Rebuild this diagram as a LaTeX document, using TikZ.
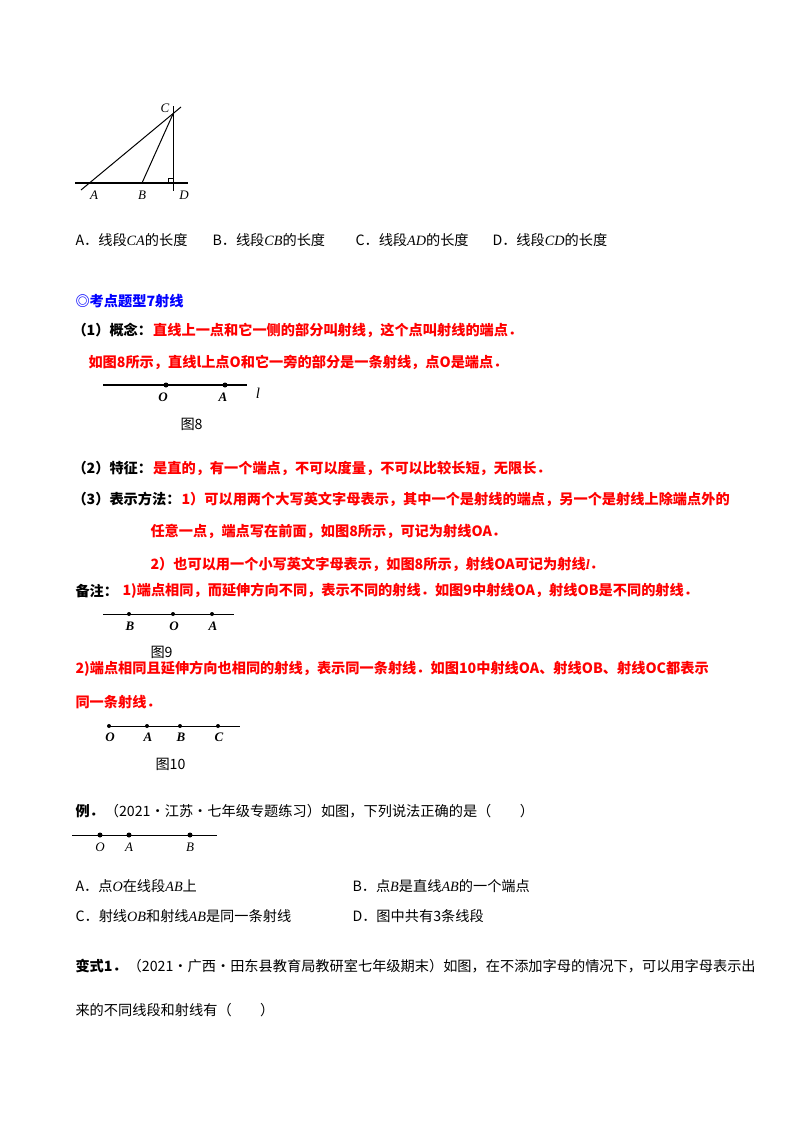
\documentclass[tikz,border=0pt]{standalone}
\usepackage{fontspec}
\setmainfont{Noto Sans CJK SC}
\newfontfamily\lat{Liberation Serif}
\begin{document}
\begin{tikzpicture}[x=1pt,y=-1pt,line width=1pt,
 t/.style={anchor=west,inner sep=0,font=\fontsize{14.2}{15}\selectfont},
 r/.style={t,text=red,font=\fontsize{14.2}{15}\selectfont\bfseries},
 lb/.style={inner sep=0,font=\fontsize{13}{13}\lat\itshape},
 lbb/.style={inner sep=0,font=\fontsize{13}{13}\lat\bfseries\itshape},
 dot/.style={circle,fill,inner sep=0,minimum size=5pt}]
\useasboundingbox (0,0) rectangle (800,1132);
\fill[white] (0,0) rectangle (800,1132);
% top figure
\coordinate (A) at (92,183); \coordinate (B) at (142,183); \coordinate (C) at (173,114); \coordinate (D) at (173,183);
\coordinate (h1) at (75,183); \coordinate (h2) at (188,183);
\coordinate (a0) at (81,190); \coordinate (a1) at (181,107);
\coordinate (v0) at (173,106); \coordinate (v1) at (173,191);
\draw[line width=1.5pt] (h1)--(h2); \draw (a0)--(a1); \draw (B)--(C); \draw (v0)--(v1);
\draw[line width=0.8pt] (168,183)--(168,178)--(173,178);
\node[lb] (lA) at (94,195) {A}; \node[lb] (lB) at (142,195) {B};
\node[lb] (lC) at (165,108) {C}; \node[lb] (lD) at (184,195) {D};
\node[t] (o1) at (75,240) {A．线段{\lat\itshape CA}的长度};
\node[t] (o2) at (212,240) {B．线段{\lat\itshape CB}的长度};
\node[t] (o3) at (355,240) {C．线段{\lat\itshape AD}的长度};
\node[t] (o4) at (492,240) {D．线段{\lat\itshape CD}的长度};
\node[t,text=blue,font=\fontsize{14.2}{15}\selectfont\bfseries] (h) at (75,301) {◎考点题型7射线};
\node[t,font=\fontsize{14.2}{15}\selectfont\bfseries] (p1) at (72,330) {（1）概念：};
\node[r] (p1r) at (p1.east) [anchor=west] {直线上一点和它一侧的部分叫射线，这个点叫射线的端点．};
\node[r] (p1b) at (88,362) {如图8所示，直线l上点O和它一旁的部分是一条射线，点O是端点．};
% fig 8
\draw[line width=1.6pt] (103,385)--(247,385);
\node[dot] (O8) at (166,385) {}; \node[dot] (A8) at (225,385) {};
\node[lbb] at (163,397) {O};
\node[lbb] at (223,397) {A};
\node[lb,font=\fontsize{15}{15}\lat\itshape] at (258,393) {l};
\node[t] (c8) at (180,424) {图8};
\node[t,font=\fontsize{14.2}{15}\selectfont\bfseries] (p2) at (72,468) {（2）特征：};
\node[r] at (p2.east) [anchor=west] {是直的，有一个端点，不可以度量，不可以比较长短，无限长．};
\node[t,font=\fontsize{14.2}{15}\selectfont\bfseries] (p3) at (72,499) {（3）表示方法：};
\node[r] at (p3.east) [anchor=west] {1）可以用两个大写英文字母表示，其中一个是射线的端点，另一个是射线上除端点外的};
\node[r] at (150,531) {任意一点，端点写在前面，如图8所示，可记为射线OA．};
\node[r] at (150,564) {2）也可以用一个小写英文字母表示，如图8所示，射线OA可记为射线{\lat\bfseries\itshape l}．};
\node[t,font=\fontsize{14.2}{15}\selectfont\bfseries] (bz) at (75,591) {备注：};
\node[r] at (122,591) {1)端点相同，而延伸方向不同，表示不同的射线．如图9中射线OA，射线OB是不同的射线．};
% fig 9
\draw (103,614)--(234,614);
\node[dot,minimum size=4pt] (B9) at (129,614) {}; \node[dot,minimum size=4pt] (O9) at (173,614) {}; \node[dot,minimum size=4pt] (A9) at (212,614) {};
\node[lbb] at (130,626) {B};
\node[lbb] at (174,626) {O};
\node[lbb] at (213,626) {A};
\node[t] at (150,652) {图9};
\node[r] at (75,669) {2)端点相同且延伸方向也相同的射线，表示同一条射线．如图10中射线OA、射线OB、射线OC都表示};
\node[r] at (75,702) {同一条射线．};
% fig 10
\draw (109,726)--(240,726);
\node[dot,minimum size=4pt] at (109,726) {}; \node[dot,minimum size=4pt] at (147,726) {};
\node[dot,minimum size=4pt] at (180,726) {}; \node[dot,minimum size=4pt] at (218,726) {};
\node[lbb] at (110,737) {O};
\node[lbb] at (148,737) {A};
\node[lbb] at (181,737) {B};
\node[lbb] at (219,737) {C};
\node[t] at (155,764) {图10};
\node[t,font=\fontsize{14.2}{15}\selectfont\bfseries] (ex) at (75,811) {例．};
\node[t] at (ex.east) [anchor=west] {（2021·江苏·七年级专题练习）如图，下列说法正确的是（　　）};
\draw (72,835)--(217,835);
\node[dot] at (100,835) {}; \node[dot] at (129,835) {}; \node[dot] at (190,835) {};
\node[lb] at (100,847) {O}; \node[lb] at (129,847) {A}; \node[lb] at (190,847) {B};
\node[t] at (75,886) {A．点{\lat\itshape O}在线段{\lat\itshape AB}上};
\node[t] at (352,886) {B．点{\lat\itshape B}是直线{\lat\itshape AB}的一个端点};
\node[t] at (75,916) {C．射线{\lat\itshape OB}和射线{\lat\itshape AB}是同一条射线};
\node[t] at (352,916) {D．图中共有3条线段};
\node[t,font=\fontsize{14.2}{15}\selectfont\bfseries] (bs) at (75,966) {变式1．};
\node[t] at (bs.east) [anchor=west] {（2021·广西·田东县教育局教研室七年级期末）如图，在不添加字母的情况下，可以用字母表示出};
\node[t] at (75,1010) {来的不同线段和射线有（　　）};
\end{tikzpicture}
\end{document}
